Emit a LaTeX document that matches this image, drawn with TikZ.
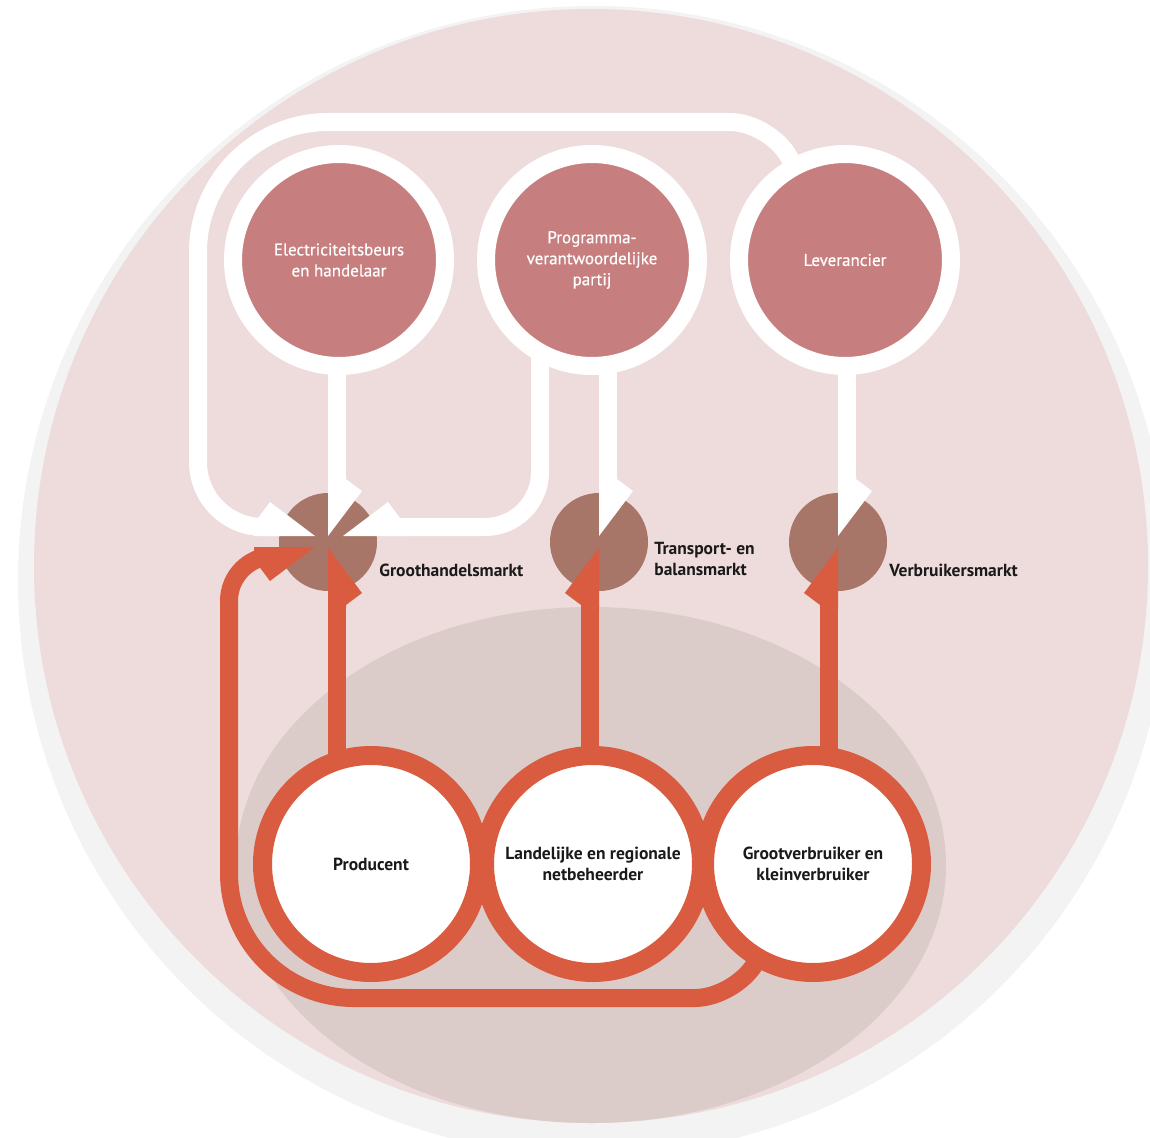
\documentclass[tikz,border=0pt]{standalone}
\usepackage{fontspec}
\setmainfont{PT Sans}
\newfontfamily\medsans{PT Sans}[FakeBold=0.6]
\usetikzlibrary{positioning,calc}
\definecolor{ringgrey}{RGB}{243,243,243}
\definecolor{bgpink}{RGB}{237,220,219}
\definecolor{basin}{RGB}{219,203,201}
\definecolor{actor}{RGB}{198,127,126}
\definecolor{market}{RGB}{168,118,104}
\definecolor{flow}{RGB}{217,91,64}
\definecolor{ink}{RGB}{26,26,26}

\pgfdeclarelayer{back}
\pgfdeclarelayer{links}
\pgfsetlayers{back,links,main}

\tikzset{
  party/.style={circle, fill=actor, draw=white, line width=18pt, minimum size=212pt,
    inner sep=0pt, text=white, align=center, font=\medsans\fontsize{17}{21}\selectfont},
  player/.style={circle, fill=white, draw=flow, line width=19pt, minimum size=217pt,
    inner sep=0pt, text=ink, align=center, font=\bfseries\fontsize{17.5}{21}\selectfont},
  mkt/.style={circle, fill=market, minimum size=98pt, inner sep=0pt},
  mlabel/.style={anchor=west, text=ink, align=left, inner sep=0pt,
    font=\bfseries\fontsize{17.5}{21}\selectfont},
  wline/.style={draw=white, line width=18pt, shorten >=40pt},
  oline/.style={draw=flow, line width=18pt, shorten >=40pt},
  pics/head/.style={code={\fill (9,0) -- (-25,45) -- (-9,57) -- (-9,61) -- (9,61) -- cycle;}},
  pics/headr/.style={code={\fill (-9,0) -- (25,45) -- (9,57) -- (9,61) -- (-9,61) -- cycle;}},
}

\begin{document}
\begin{tikzpicture}[x=1pt, y=-1pt]
  \useasboundingbox (0,0) rectangle (1150,1137);

  % backdrop and markets
  \begin{pgfonlayer}{back}
    \begin{scope}
      \clip (0,0) rectangle (1150,1137);
      \fill[ringgrey] (593,581) circle[radius=575];
      \fill[bgpink] (591,566) circle[radius=557];
      \clip (591,566) circle[radius=557];
      \fill[basin] (591,865) ellipse[x radius=355, y radius=258];
    \end{scope}
    \node[mkt] (gm) at (328,542) {};
    \node[mkt] (tb) at (599,542) {};
    \node[mkt] (vm) at (838,542) {};
  \end{pgfonlayer}

  % parties
  \node[party] (eb) at (339,260) {Electriciteitsbeurs\\en handelaar};
  \node[party] (pv) at (592,260) {Programma-\\verantwoordelijke\\partij};
  \node[party] (lv) at (845,260) {Leverancier};

  \node[player] (pr) at (371,864) {Producent};
  \node[player] (lb) at (593,864) {Landelijke en regionale\\netbeheerder};
  \node[player] (gv) at (813,864) {Grootverbruiker en\\kleinverbruiker};

  \node[mlabel] (gm-l) at ($(gm.east)+(2,28)$) {Groothandelsmarkt};
  \node[mlabel] (tb-l) at ($(tb.east)+(6,17)$) {Transport- en\\balansmarkt};
  \node[mlabel] (vm-l) at ($(vm.east)+(2,28)$) {Verbruikersmarkt};

  % arrow tips
  \coordinate (gm-top) at ($(gm)+(9,-6)$);
  \coordinate (gm-bot) at ($(gm)+(9,6)$);
  \coordinate (gm-lw) at ($(gm)+(-13,-15)$);
  \coordinate (gm-rw) at ($(gm)+(15,-15)$);
  \coordinate (gm-lo) at ($(gm)+(-13,14)$);
  \coordinate (tb-top) at ($(tb)+(9,-6)$);
  \coordinate (tb-bot) at ($(tb)+(-9,6)$);
  \coordinate (vm-top) at ($(vm)+(9,-6)$);
  \coordinate (vm-bot) at ($(vm)+(-9,6)$);
  \coordinate (pv-drop) at ($(pv.center)+(-52,0)$);

  \begin{pgfonlayer}{links}
    % white flows
    \draw[wline] (eb.center -| gm-top) -- (gm-top);
    \draw[wline] (pv.center -| tb-top) -- (tb-top);
    \draw[wline] (lv.center -| vm-top) -- (vm-top);
    \draw[wline] (lv.center) [rounded corners=40pt] -- (770,122)
      [rounded corners=130pt] -- (198,122) [rounded corners=65pt] -- (198,527) -- (gm-lw);
    \draw[wline] (pv-drop) [rounded corners=55pt] -- (pv-drop |- gm-rw) -- (gm-rw);
    \pic[white, rotate=180] at (gm-top) {head};
    \pic[white, rotate=180] at (tb-top) {head};
    \pic[white, rotate=180] at (vm-top) {head};
    \pic[white, rotate=-90] at (gm-lw) {head};
    \pic[white, rotate=90] at (gm-rw) {headr};

    % orange flows
    \draw[oline] (pr.center -| gm-bot) -- (gm-bot);
    \draw[oline] (lb.center -| tb-bot) -- (tb-bot);
    \draw[oline] (gv.center -| vm-bot) -- (vm-bot);
    \draw[oline] (gv.center) [rounded corners=40pt] -- (735,998)
      [rounded corners=125pt] -- (229,998) [rounded corners=45pt] -- (229,556) -- (gm-lo);
    \pic[flow] at (gm-bot) {headr};
    \pic[flow] at (tb-bot) {head};
    \pic[flow] at (vm-bot) {head};
    \pic[flow, rotate=-90] at (gm-lo) {headr};
  \end{pgfonlayer}
\end{tikzpicture}
\end{document}
